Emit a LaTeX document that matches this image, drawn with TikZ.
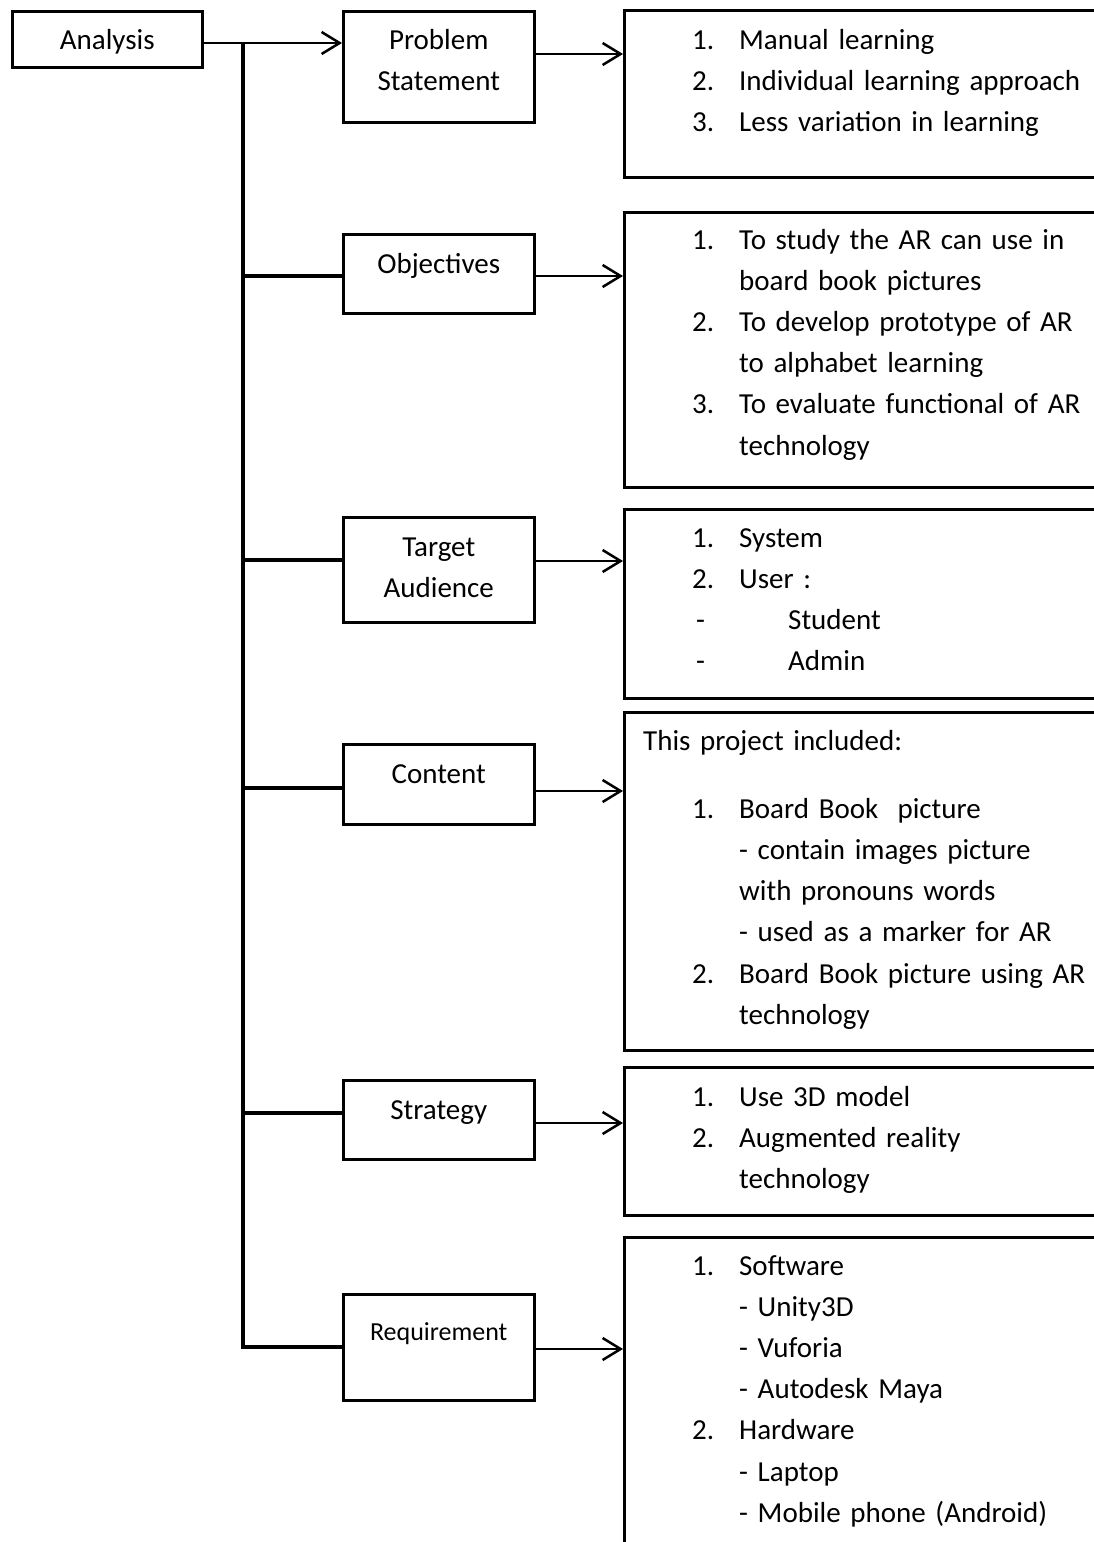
\documentclass[tikz,border=0pt]{standalone}
\usepackage{fontspec}
\setmainfont{Carlito}
\usetikzlibrary{arrows.meta,calc}

% list helpers: numbered entry and continuation indent
\newcommand\numitem[1]{\makebox[47pt][l]{#1}}
\newcommand\indnt{\hspace*{47pt}}
\newcommand\dashitem{\makebox[96pt][l]{\hspace*{4pt}-}}

\begin{document}
\begin{tikzpicture}[x=1pt,y=-1pt,
  boxframe/.style={draw, line width=2.5pt, rectangle, inner sep=0pt, anchor=north west},
  headtext/.style={inner sep=0pt, anchor=base, text width=191pt, align=center,
                   font=\fontsize{29}{41.2}\selectfont},
  listtext/.style={inner sep=0pt, anchor=base west, text width=420pt, align=left,
                   font=\fontsize{29}{41.2}\selectfont},
  link/.style={line width=2.5pt, -{Straight Barb[length=18pt,width=22pt]}},
  trunk/.style={line width=4pt},
]
\useasboundingbox (0,0) rectangle (1094,1542);
\clip (0,0) rectangle (1094,1542);

% root
\node[boxframe, minimum width=190pt, minimum height=56pt] (an) at (11,10) {};
\node[headtext, text width=190pt] (an-t) at ($(an.north)+(0,39)$) {Analysis};

% left column boxes
\node[boxframe, minimum width=191pt, minimum height=111pt] (ps) at (342,10) {};
\node[boxframe, minimum width=191pt, minimum height=79pt]  (ob) at (342,233) {};
\node[boxframe, minimum width=191pt, minimum height=105pt] (ta) at (342,516) {};
\node[boxframe, minimum width=191pt, minimum height=80pt]  (co) at (342,743) {};
\node[boxframe, minimum width=191pt, minimum height=79pt]  (st) at (342,1079) {};
\node[boxframe, minimum width=191pt, minimum height=106pt] (re) at (342,1293) {};

\node[headtext] (ps-t) at ($(ps.north)+(0,39)$) {Problem\\Statement};
\node[headtext] (ob-t) at ($(ob.north)+(0,40)$) {Objectives};
\node[headtext] (ta-t) at ($(ta.north)+(0,40)$) {Target\\Audience};
\node[headtext] (co-t) at ($(co.north)+(0,40)$) {Content};
\node[headtext] (st-t) at ($(st.north)+(0,40)$) {Strategy};
\node[headtext, font=\fontsize{26}{36}\selectfont] (re-t) at ($(re.north)+(0,47)$) {Requirement};

% right column boxes (run past the page edge)
\node[boxframe, minimum width=487pt, minimum height=167pt] (psr) at (623,9) {};
\node[boxframe, minimum width=487pt, minimum height=275pt] (obr) at (623,211) {};
\node[boxframe, minimum width=487pt, minimum height=189pt] (tar) at (623,508) {};
\node[boxframe, minimum width=487pt, minimum height=338pt] (cor) at (623,711) {};
\node[boxframe, minimum width=487pt, minimum height=148pt] (str) at (623,1066) {};
\node[boxframe, minimum width=487pt, minimum height=330pt] (rer) at (623,1236) {};

\node[listtext] (psr-t) at ($(psr.north west)+(69,40)$) {%
\numitem{1.}Manual learning\\
\numitem{2.}Individual learning approach\\
\numitem{3.}Less variation in learning};

\node[listtext] (obr-t) at ($(obr.north west)+(69,38)$) {%
\numitem{1.}To study the AR can use in\\
\indnt board book pictures\\
\numitem{2.}To develop prototype of AR\\
\indnt to alphabet learning\\
\numitem{3.}To evaluate functional of AR\\
\indnt technology};

\node[listtext] (tar-t) at ($(tar.north west)+(69,39)$) {%
\numitem{1.}System\\
\numitem{2.}User :\\
\dashitem Student\\
\dashitem Admin};

\node[listtext] (cor-t) at ($(cor.north west)+(69,39)$) {%
\hspace*{-49pt}This project included:\\[27pt]
\numitem{1.}Board Book\ \ picture\\
\indnt - contain images picture\\
\indnt with pronouns words\\
\indnt - used as a marker for AR\\
\numitem{2.}Board Book picture using AR\\
\indnt technology};

\node[listtext] (str-t) at ($(str.north west)+(69,40)$) {%
\numitem{1.}Use 3D model\\
\numitem{2.}Augmented reality\\
\indnt technology};

\node[listtext] (rer-t) at ($(rer.north west)+(69,39)$) {%
\numitem{1.}Software\\
\indnt - Unity3D\\
\indnt - Vuforia\\
\indnt - Autodesk Maya\\
\numitem{2.}Hardware\\
\indnt - Laptop\\
\indnt - Mobile phone (Android)};

% connector heights
\coordinate (yan) at (0,43);
\coordinate (yps) at (0,54);
\coordinate (yob) at (0,276);
\coordinate (yta) at (0,561);
\coordinate (yco) at (0,791);
\coordinate (yst) at (0,1123);
\coordinate (yre) at (0,1349);
\coordinate (trunktop) at (243,43);

% root arrow and vertical trunk with its branches
\draw[link] (an.east |- yan) -- (ps.west |- yan);
\draw[trunk] (trunktop) -- (trunktop |- re.west) -- (re.west);
\draw[trunk] (trunktop |- 0,276)  -- (ob.west |- 0,276);
\draw[trunk] (trunktop |- 0,560)  -- (ta.west |- 0,560);
\draw[trunk] (trunktop |- 0,788)  -- (co.west |- 0,788);
\draw[trunk] (trunktop |- 0,1113) -- (st.west |- 0,1113);

% arrows to the detail boxes
\draw[link] (ps.east |- yps) -- (psr.west |- yps);
\draw[link] (ob.east |- yob) -- (obr.west |- yob);
\draw[link] (ta.east |- yta) -- (tar.west |- yta);
\draw[link] (co.east |- yco) -- (cor.west |- yco);
\draw[link] (st.east |- yst) -- (str.west |- yst);
\draw[link] (re.east |- yre) -- (rer.west |- yre);
\end{tikzpicture}
\end{document}
